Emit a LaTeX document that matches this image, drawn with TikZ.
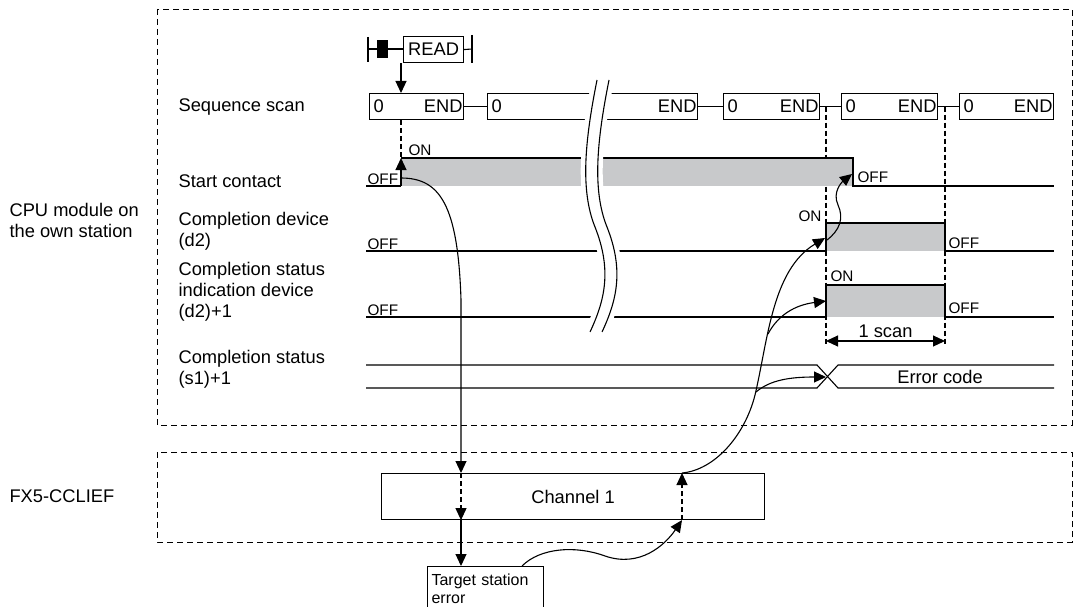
\documentclass[tikz,border=0pt]{standalone}
\usepackage{fontspec}
\setmainfont{Liberation Sans}
\usepackage{xcolor}
\usetikzlibrary{arrows.meta,calc}
\definecolor{tdFill}{HTML}{C8C9CB}

\begin{document}
\begin{tikzpicture}[x=1pt,y=-1pt,line width=1.1pt,
  lbl/.style={font=\fontsize{18.3}{21}\selectfont,anchor=west,inner sep=0pt,align=left},
  tag/.style={font=\fontsize{15.3}{17}\selectfont,inner sep=0pt},
  scan/.style={draw,minimum height=26pt,inner sep=0pt,anchor=north west},
  frame/.style={draw,dash pattern=on 6pt off 4pt,line width=0.9pt},
  hi/.style={fill=tdFill},
  ar/.style={-{Triangle[length=12pt,width=11pt]}},
  dsh/.style={dash pattern=on 5pt off 3pt}
]
\useasboundingbox (0,0) rectangle (1075,607);

\draw[frame] (157,9) rectangle (1072,425);
\draw[frame] (157,452) rectangle (1072,542);

\node[lbl] (cpu) at (9,220) {CPU module on\\the own station};
\node[lbl] (fx) at (9,496) {FX5-CCLIEF};
\node[lbl] (lSeq) at (178,107) {Sequence scan};
\node[lbl] (lStart) at (178,181) {Start contact};
\node[lbl] (lDone) at (178,231) {Completion device\\(d2)};
\node[lbl] (lStat) at (178,292) {Completion status\\indication device\\(d2)+1};
\node[lbl] (lErr) at (178,369) {Completion status\\(s1)+1};

% READ contact
\draw (368,37) -- (368,62);
\draw (368,49) -- (377,49);
\fill (377,40) rectangle (388,58);
\draw (388,49) -- (403,49);
\node[scan,minimum width=60pt,font=\fontsize{18.3}{21}\selectfont] (rd) at (403,36) {READ};
\draw (rd.east) -- (472,49);
\draw (472,35) -- (472,63);

% sequence scan
\foreach \n/\xl/\xr in {1/369/463,2/487/697,3/723/819,4/841/937,5/959/1053}{
  \node[scan,minimum width=\xr-\xl] (b\n) at (\xl,93) {};
  \node[lbl] at ($(b\n.west)+(4,0)$) {0};
  \node[lbl,anchor=east] at ($(b\n.east)+(-1,0)$) {END};
}
\draw (b1.east) -- (b2.west);
\draw (b2.east) -- (b3.west);
\draw (b3.east) -- (b4.west);
\draw (b4.east) -- (b5.west);

\coordinate (tOn) at (401,0);
\coordinate (tDone) at (826,0);
\coordinate (tOff) at (945,0);
\draw[ar] (tOn |- rd.south) -- (tOn |- b1.north);
\draw[dsh] (tOn |- b1.south) -- (401,158);
\draw[dsh] (b3.east -| tDone) -- (826,346);
\draw[dsh] (b4.east -| tOff) -- (945,346);

% start contact
\fill[hi] (401,158) rectangle (853,186);
\draw (366,186) -- (401,186);
\draw[ar] (401,186) -- (401,158);
\draw (401,158) -- (853,158) -- (853,186) -- (1054,186);
\node[tag,anchor=south west] (on1) at (408,156) {ON};
\node[tag,anchor=south west] (off1) at (367,185) {OFF};
\node[tag,anchor=west] (off1r) at (857,177) {OFF};

% completion device
\fill[hi] (826,223) rectangle (945,251);
\draw (366,251) -- (826,251) -- (826,223) -- (945,223) -- (945,251) -- (1054,251);
\node[tag,anchor=south west] (off2) at (367,250) {OFF};
\node[tag,anchor=south east] (on2) at (822,222) {ON};
\node[tag,anchor=south west] (off2r) at (948,249) {OFF};

% completion status indication
\fill[hi] (826,285) rectangle (945,317);
\draw (366,317) -- (826,317) -- (826,285) -- (945,285) -- (945,317) -- (1054,317);
\node[tag,anchor=south west] (off3) at (367,316) {OFF};
\node[tag,anchor=south west] (on3) at (830,282) {ON};
\node[tag,anchor=south west] (off3r) at (948,314) {OFF};

\draw[{Triangle[length=12pt,width=11pt]}-{Triangle[length=12pt,width=11pt]}]
  (826,341) -- (945,341) node[midway,above=3pt,font=\fontsize{18.3}{21}\selectfont,inner sep=0pt] (scan1) {1 scan};

% completion status
\draw (366,365) -- (817,365) -- (838,388) -- (1054,388);
\draw (366,388) -- (817,388) -- (838,365) -- (1054,365);
\node[lbl,anchor=center] (err) at (940,377) {Error code};

% break
\draw[white,line width=22pt] (603,80) .. controls (591,140) and (586,190) .. (601,227)
  .. controls (618,270) and (611,300) .. (596,332);
\draw (597,80) .. controls (585,140) and (580,190) .. (595,227)
  .. controls (612,270) and (605,300) .. (590,332);
\draw (609,80) .. controls (597,140) and (592,190) .. (607,227)
  .. controls (624,270) and (617,300) .. (602,332);

% FX5-CCLIEF
\node[scan,minimum width=383pt,minimum height=46pt,font=\fontsize{18.3}{21}\selectfont] (ch) at (381,473) {Channel 1};
\node[draw,anchor=north west,minimum width=116pt,minimum height=44pt,text width=108pt,
  inner sep=4pt,align=left,font=\fontsize{16}{18}\selectfont] (tgt) at (427,566) {Target station\\error};
\coordinate (tReq) at (461,0);
\coordinate (tRet) at (682,0);
\draw[ar] (401,178) .. controls (440,178) and (458,205) .. (461,300) -- (tReq |- ch.north);
\draw[dsh,ar] (tReq |- ch.north) -- (tReq |- ch.south);
\draw[ar] (tReq |- ch.south) -- (tReq |- tgt.north);
\draw[ar] ($(tgt.north west)+(95,0)$) .. controls (540,548) and (575,545) .. (605,556)
  .. controls (640,568) and (665,545) .. (tRet |- ch.south);
\draw[dsh,ar] (tRet |- ch.south) -- (tRet |- ch.north);
\draw[ar] (tRet |- ch.north) .. controls (715,470) and (745,435) .. (755,395)
  .. controls (768,340) and (772,270) .. (825,238);
\coordinate (jStat) at (768,334);
\coordinate (jErr) at (756,392);
\draw[ar] (jStat) .. controls (778,315) and (795,305) .. (826,301);
\draw[ar] (jErr) .. controls (770,380) and (790,377) .. (826,377);
\draw[ar] (827,240) .. controls (840,230) and (844,218) .. (838,205)
  .. controls (832,192) and (842,182) .. (852,174);
\end{tikzpicture}
\end{document}
